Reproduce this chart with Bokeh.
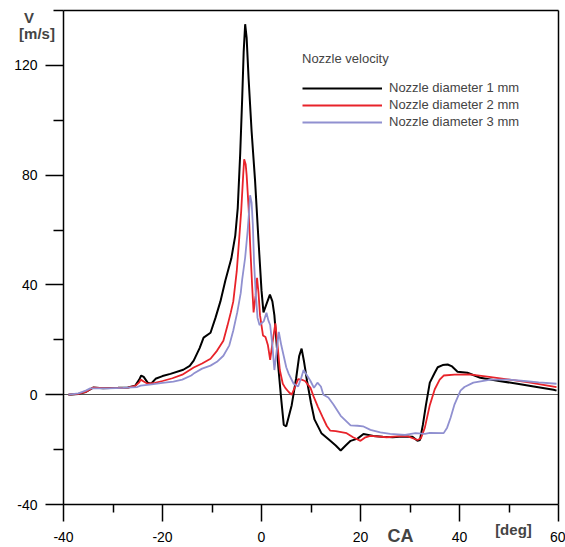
from bokeh.plotting import figure
from bokeh.models import FixedTicker, Label, Legend, LegendItem, LinearAxis, Range1d
from bokeh.embed import file_html
from bokeh.resources import INLINE

# ---------------- data ----------------
ca_1 = [-39.0, -37.0, -35.5, -34.0, -32.0, -29.0, -27.0, -25.5, -24.7, -24.3, -23.8, -23.0, -22.3, -21.4,
        -20.0, -18.4, -15.8, -14.5, -13.7, -12.5, -11.7, -10.3, -9.3, -8.3, -7.3, -6.1, -5.3, -4.8, -4.3,
        -3.9, -3.6, -3.3, -3.0, -2.6, -2.0, -1.3, -0.6, 0.0, 0.4, 1.0, 1.7, 2.2, 2.6, 3.0, 3.4, 4.0, 4.5,
        5.0, 5.5, 6.1, 7.0, 7.6, 8.1, 8.6, 9.2, 10.0, 10.7, 12.1, 13.9, 15.0, 16.0, 17.0, 18.0, 19.4, 20.6,
        22.6, 24.5, 26.5, 28.5, 30.5, 31.5, 32.0, 32.6, 33.2, 34.0, 35.0, 35.6, 36.6, 37.6, 38.5, 39.6,
        41.6, 44.2, 48.0, 51.7, 55.0, 59.0, 59.6]
v_1 = [0, 0.3, 1.0, 2.6, 2.4, 2.5, 2.6, 3.3, 5.5, 7.0, 6.5, 4.4, 4.0, 5.8,
       6.8, 7.6, 9.1, 10.5, 12.4, 17, 20.8, 22.6, 28, 34, 41.6, 49.6, 58, 68, 88,
       108, 125, 135, 130, 115, 96, 78, 56, 38, 30, 33, 36.5, 34, 29, 20, 10, -2, -11,
       -11.5, -8, -3.8, 6, 14, 16.8, 12, 5, -3, -9, -14, -16.8, -18.5, -20.3, -18.5, -16.8, -16, -14.3,
       -15, -15.3, -15.5, -15.2, -15.3, -16.8, -16.5, -11, -4, 4.4, 8, 10, 10.8, 11, 10.3, 8.4,
       8, 6.2, 5, 4.0, 3, 1.8, 1.5]

ca_2 = [-39.0, -37.0, -35.5, -34.0, -32.0, -29.0, -27.0, -25.5, -24.7, -24.4, -23.8, -23.0, -21.5, -20.0,
        -18.0, -16.0, -13.7, -12.0, -10.3, -9.0, -7.7, -6.9, -6.2, -5.7, -5.0, -4.5, -4.1, -3.7, -3.5,
        -3.2, -3.0, -2.6, -2.3, -1.9, -1.6, -1.2, -0.9, -0.6, -0.3, 0.3, 0.8, 1.3, 1.75, 2.3, 2.8, 3.3,
        3.7, 4.3, 4.8, 5.5, 6.1, 6.8, 7.4, 8.1, 8.8, 9.9, 10.6, 11.4, 12.3, 13.2, 13.9, 15.0, 17.2, 18.5,
        20.0, 21.0, 22.0, 25.3, 27.5, 29.6, 31.5, 32.2, 33.0, 34.0, 35.0, 36.0, 36.8, 39.0, 42.0, 46.0,
        49.3, 54.0, 59.6]
v_2 = [0, 0.3, 1, 2.6, 2.4, 2.5, 2.6, 3.2, 4.5, 5.5, 4.8, 4.0, 4.3, 5.0,
       6, 7.3, 9.9, 11.4, 13.1, 16, 19.7, 25, 30, 34, 45, 57, 67, 80, 85.8,
       84, 80, 68, 55, 40, 30, 36, 42.6, 37, 29, 21.6, 21, 18, 12.7, 20, 26, 17,
       9, 4, 2.5, 1, 0, 3, 5.7, 5.5, 5, 2.5, -1, -4.4, -8, -11.4, -13.1, -13.3, -14, -15.5,
       -16.8, -15.5, -15, -15.5, -15.2, -15.2, -16.5, -15.9, -12, -3.8, 2, 5.5, 7, 7.3, 7.4, 6.5,
       5.7, 4.5, 2.8]

ca_3 = [-39.0, -37.0, -35.5, -34.6, -31.0, -28.0, -25.1, -24.4, -22.2, -20.0, -17.8, -16.0, -14.2, -13.7,
        -12.0, -10.3, -9.0, -7.7, -6.5, -5.7, -4.9, -4.2, -3.9, -3.3, -2.8, -2.5, -2.3, -2.0, -1.75,
        -1.5, -1.2, -0.8, -0.4, 0.0, 0.44, 1.0, 1.4, 1.75, 2.2, 2.6, 3.0, 3.5, 4.0, 4.5, 5.0, 5.5, 6.5,
        7.4, 8.0, 8.5, 9.2, 9.9, 10.6, 11.3, 12.0, 12.5, 13.5, 14.5, 16.0, 18.0, 19.4, 20.5, 22.0, 24.0,
        26.0, 29.0, 31.1, 33.0, 34.0, 36.8, 37.5, 38.2, 39.0, 40.2, 41.0, 42.8, 46.3, 50.0, 53.0, 56.0,
        59.6]
v_3 = [0, 0.5, 1.5, 2.3, 2.3, 2.5, 2.8, 3.3, 3.8, 4.3, 4.8, 5.5, 7, 7.7,
       9.5, 10.6, 12, 14.2, 18, 23.4, 30, 37, 42, 50, 59.7, 67, 72.7, 70, 62,
       48, 38, 28, 25.4, 26, 26.7, 29.9, 27, 25.4, 18, 9, 15, 22.9, 18, 14, 10, 7.6, 4,
       3, 6, 9, 7, 5, 2.5, 4.4, 3, 0, -1, -3.5, -7.7, -11.2, -11.3, -11.5, -12.8, -13.7,
       -14.3, -14.6, -14, -14.3, -13.9, -14, -12, -8.4, -3.5, 1.5, 2.8, 4.4, 5.5, 5.5, 5, 4.5,
       4]

series_names = ["Nozzle diameter 1 mm", "Nozzle diameter 2 mm", "Nozzle diameter 3 mm"]
x_major = [-40, -20, 0, 20, 40, 60]
x_minor = [-30, -10, 10, 30, 50]
y_major = [-40, 0, 40, 80, 120]
y_minor = [-20, 20, 60, 100, 140]
x_min, x_max = -40, 60
y_min, y_max = -40, 140

FONT = "Liberation Sans"
W, H = 565, 547
# pixel layout of the axes box inside the canvas
LEFT, RIGHT, TOP, BOTTOM = 63, 558, 10, 504
px_per_x = (RIGHT - LEFT) / (x_max - x_min)
px_per_y = (BOTTOM - TOP) / (y_max - y_min)
xr = Range1d(x_min - LEFT / px_per_x, x_max + (W - RIGHT) / px_per_x)
yr = Range1d(y_min - (H - BOTTOM) / px_per_y, y_max + TOP / px_per_y)

p = figure(width=W, height=H, x_range=xr, y_range=yr,
           output_backend="svg", toolbar_location=None,
           min_border_left=0, min_border_right=0, min_border_top=0, min_border_bottom=0)

p.xgrid.visible = False
p.ygrid.visible = False
p.outline_line_color = None
p.background_fill_color = "white"
p.border_fill_color = "white"

# zero reference line (drawn as a bare axis line under the curves)
zero_axis = LinearAxis(fixed_location=0, bounds=(x_min, x_max), ticker=FixedTicker(ticks=[]),
                       major_label_text_font_size="0px", axis_line_color="#555555",
                       axis_line_width=1, level="underlay")
p.add_layout(zero_axis, "below")

r1 = p.line(ca_1, v_1, line_color="black", line_width=2)
r2 = p.line(ca_2, v_2, line_color="#e8232a", line_width=1.8)
r3 = p.line(ca_3, v_3, line_color="#9090d0", line_width=1.8)

xa = p.xaxis[0]
xa.fixed_location = y_min
xa.bounds = (x_min, x_max)
xa.ticker = FixedTicker(ticks=x_major, minor_ticks=x_minor)
xa.major_label_overrides = {t: str(t) for t in x_major}
xa.major_tick_out = 17
xa.major_tick_in = 0
xa.minor_tick_out = 8
xa.minor_tick_in = 0
xa.major_label_standoff = 10
xa.axis_line_width = 1.5
xa.major_tick_line_width = 1.5
xa.minor_tick_line_width = 1.5
xa.major_label_text_font = FONT
xa.major_label_text_font_size = "14px"
xa.major_label_text_color = "black"

ya = p.yaxis[0]
ya.fixed_location = x_min
ya.bounds = (y_min, y_max)
ya.ticker = FixedTicker(ticks=y_major, minor_ticks=y_minor)
ya.major_label_overrides = {t: str(t) for t in y_major}
ya.major_tick_out = 18
ya.major_tick_in = 0
ya.minor_tick_out = 10
ya.minor_tick_in = 0
ya.major_label_standoff = 8
ya.axis_line_width = 1.5
ya.major_tick_line_width = 1.5
ya.minor_tick_line_width = 1.5
ya.major_label_text_font = FONT
ya.major_label_text_font_size = "14px"
ya.major_label_text_color = "black"

# box lines at top and right
top_axis = LinearAxis(fixed_location=y_max, bounds=(x_min, x_max), ticker=FixedTicker(ticks=[]),
                      major_label_text_font_size="0px", axis_line_color="black", axis_line_width=1.5)
p.add_layout(top_axis, "above")
right_axis = LinearAxis(fixed_location=x_max, bounds=(y_min, y_max), ticker=FixedTicker(ticks=[]),
                        major_label_text_font_size="0px", axis_line_color="black", axis_line_width=1.5)
p.add_layout(right_axis, "right")

# axis titles
p.add_layout(Label(x=-46.97, y=137.5, text="V", text_font=FONT, text_font_size="15px",
                   text_font_style="bold", text_align="center", text_baseline="alphabetic"))
p.add_layout(Label(x=-45.35, y=131.6, text="[m/s]", text_font=FONT, text_font_size="15px",
                   text_font_style="bold", text_align="center", text_baseline="alphabetic"))
p.add_layout(Label(x=28.08, y=-51.6, text="CA", text_font=FONT, text_font_size="18px",
                   text_font_style="bold", text_align="center", text_baseline="alphabetic"))
p.add_layout(Label(x=50.9, y=-49.1, text="[deg]", text_font=FONT, text_font_size="15px",
                   text_font_style="bold", text_align="center", text_baseline="alphabetic"))

legend = Legend(items=[LegendItem(label=series_names[0], renderers=[r1]),
                       LegendItem(label=series_names[1], renderers=[r2]),
                       LegendItem(label=series_names[2], renderers=[r3])],
                location=(302, 418), title="Nozzle velocity",
                title_text_font=FONT, title_text_font_size="13px", title_text_font_style="normal",
                title_standoff=14,
                label_text_font=FONT, label_text_font_size="13px",
                glyph_width=80, glyph_height=12, label_height=12, spacing=2,
                label_standoff=7, padding=0, margin=0,
                border_line_color=None, background_fill_alpha=0)
p.add_layout(legend)

open("out.html", "w").write(file_html(p, INLINE))
